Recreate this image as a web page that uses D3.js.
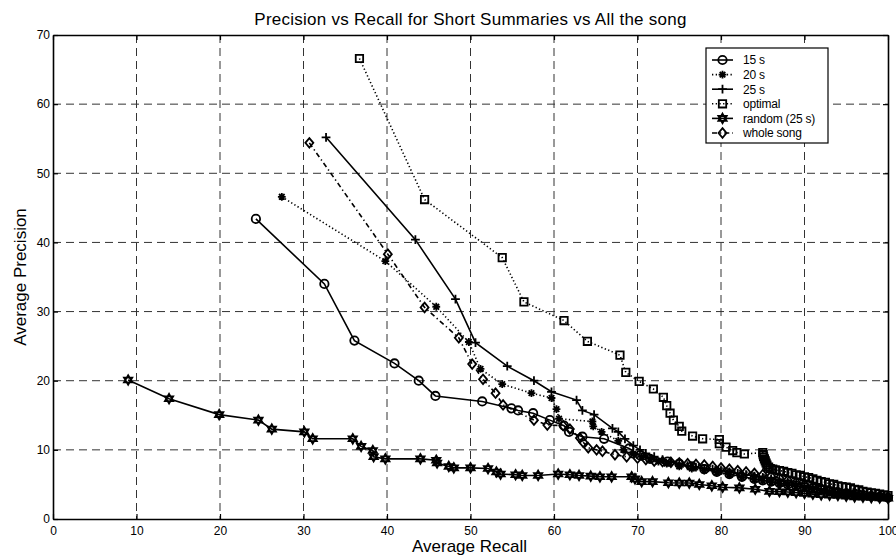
<!DOCTYPE html>
<html>
<head>
<meta charset="utf-8">
<script src="https://cdn.jsdelivr.net/npm/d3@7"></script>
<style>
  body { margin: 0; background: #fff; }
  svg text { font-family: 'Liberation Sans', Arial, sans-serif; fill: #000; }
</style>
</head>
<body>
<div id="chart"></div>
<script>
// [recall, precision] pairs
const sec15 = [[24.3,43.4],[32.5,34.0],[36.1,25.8],[40.9,22.5],[43.8,20.0],[45.8,17.8],[51.4,17.0],[54.9,16.0],[55.7,15.7],[57.5,15.3],[59.5,14.3],[61.2,13.5],[61.8,12.6],[63.4,11.9],[66.0,11.6],[69.0,10.2],[70.3,9.2],[71.5,8.7],[73.6,8.3],[75,8.0],[76.5,7.6],[78,7.2],[79.5,6.8],[81,6.5],[82.5,6.1],[84,5.8],[85,5.6],[86,5.4],[87,5.2],[88,5.0],[89,4.8],[90,4.6],[91,4.4],[92,4.2],[93,4.0],[94,3.85],[95,3.7],[96,3.6],[97,3.45],[98,3.3],[99,3.2],[100,3.1]]
const sec20 = [[27.4,46.6],[39.8,37.3],[45.9,30.7],[49.8,25.6],[51.2,21.7],[53.8,19.5],[57.3,18.2],[59.7,17.5],[60.3,15.9],[60.6,14.5],[64.6,14.1],[64.7,13.4],[65.7,12.6],[67.7,11.3],[68.3,10.0],[69.5,9.4],[70.5,9.0],[71.5,8.7],[72.5,8.3],[73.5,8.0],[75,7.6],[76.5,7.3],[78,7.0],[79.5,6.7],[81,6.4],[82.5,6.0],[84,5.7],[85,5.5],[86,5.3],[87,5.1],[88,4.9],[89,4.7],[90,4.5],[91,4.3],[92,4.1],[93,3.9],[94,3.75],[95,3.6],[96,3.5],[97,3.35],[98,3.25],[99,3.15],[100,3.1]]
const sec25 = [[32.7,55.2],[43.4,40.4],[48.2,31.8],[50.6,25.5],[54.4,22.1],[57.6,20.0],[59.7,18.4],[62.7,17.2],[63.4,15.7],[64.8,15.1],[67.0,13.1],[67.7,12.6],[68.5,11.6],[69.5,10.6],[70.3,10.0],[71,9.5],[72,9.0],[73,8.6],[74,8.3],[75,8.0],[76,7.7],[77,7.5],[78,7.3],[79,7.2],[80,7.0],[81,6.8],[82,6.6],[83,6.4],[84,6.2],[85,6.0],[86,5.8],[87,5.6],[88,5.3],[89,5.1],[90,4.8],[91,4.6],[92,4.3],[93,4.1],[94,3.9],[95,3.7],[96,3.6],[97,3.4],[98,3.3],[99,3.2],[100,3.1]]
const optimal = [[36.7,66.6],[44.5,46.2],[53.8,37.8],[56.4,31.4],[61.2,28.7],[64.0,25.7],[67.9,23.7],[68.6,21.2],[70.2,19.9],[71.9,18.8],[73.1,17.6],[73.5,16.4],[73.9,15.3],[74.3,14.3],[75.0,13.4],[75.3,12.7],[76.6,12.0],[77.8,11.6],[79.8,11.5],[79.8,10.9],[80.6,10.4],[81.4,9.9],[81.9,9.6],[82.8,9.4],[85,9.6],[85.05,9.3],[85.1,9.0],[85.2,8.7],[85.3,8.4],[85.4,8.1],[85.5,7.8],[85.7,7.5],[85.9,7.3],[86.2,7.2],[86.5,7.1],[87,7.0],[87.5,6.9],[88,6.7],[88.5,6.6],[89,6.4],[89.5,6.3],[90,6.1],[90.5,6.0],[91,5.8],[91.5,5.6],[92,5.4],[92.5,5.3],[93,5.1],[93.5,5.0],[94,4.8],[94.5,4.7],[95,4.6],[95.5,4.5],[96,4.3],[96.5,4.2],[97,4.0],[97.5,3.9],[98,3.8],[98.5,3.7],[99,3.6],[99.5,3.5],[100,3.4]]
const random25 = [[9.0,20.1],[13.9,17.4],[19.9,15.1],[24.6,14.3],[26.2,13.0],[30.1,12.6],[31.1,11.6],[35.9,11.6],[36.9,10.5],[38.3,9.9],[38.4,9.0],[39.8,8.7],[44.0,8.7],[45.9,8.5],[46.0,8.1],[47.4,7.6],[48.0,7.4],[50.0,7.4],[52.1,7.3],[53.1,6.8],[53.6,6.5],[55.4,6.4],[56.2,6.3],[58.1,6.3],[60.5,6.5],[61.9,6.4],[63.0,6.3],[64.4,6.2],[65.5,6.1],[66.9,6.1],[69.3,6.1],[69.7,5.8],[70.5,5.4],[71.8,5.4],[73.7,5.25],[75,5.2],[76.2,5.2],[77.4,5.0],[78.9,4.8],[80.2,4.6],[82.2,4.5],[84.1,4.3],[85.8,4.0],[87,3.95],[88,3.9],[89,3.8],[90,3.7],[91,3.6],[92,3.5],[93,3.45],[94,3.4],[95,3.3],[96,3.2],[97,3.15],[98,3.1],[99,3.05],[100,3.0]]
const wholeSong = [[30.7,54.4],[40.1,38.3],[44.5,30.6],[48.6,26.2],[50.2,22.4],[51.5,20.2],[53.0,18.2],[53.9,16.5],[57.6,14.3],[59.2,13.6],[61.1,13.5],[61.9,13.0],[63.1,11.7],[63.5,11.1],[64.1,10.3],[65.1,10.0],[65.8,9.8],[67.3,9.3],[68.7,9.0],[70,8.8],[71,8.6],[72,8.4],[73,8.3],[74,8.2],[75,8.1],[76,8.0],[77,7.9],[78,7.8],[79,7.6],[80,7.4],[81,7.2],[82,7.0],[83,6.8],[84,6.6],[85,6.4],[86,6.2],[87,5.9],[88,5.6],[89,5.3],[90,5.0],[91,4.7],[92,4.4],[93,4.1],[94,3.9],[95,3.7],[96,3.5],[97,3.4],[98,3.3],[99,3.2],[100,3.1]]

const seriesNames = ['15 s', '20 s', '25 s', 'optimal', 'random (25 s)', 'whole song']
const seriesData = [sec15, sec20, sec25, optimal, random25, wholeSong]
const markers = ['circle', 'asterisk', 'plus', 'square', 'hexagram', 'diamond']
const dashes = [null, '1.3,2.4', null, '1.3,2.4', null, '5,3,1.3,3']

const xTicks = [0, 10, 20, 30, 40, 50, 60, 70, 80, 90, 100]
const yTicks = [0, 10, 20, 30, 40, 50, 60, 70]

const margin = { top: 35, left: 53, right: 8, bottom: 37 }
const width = 896 - margin.left - margin.right
const height = 556 - margin.top - margin.bottom

const svg = d3.select('#chart')
  .append('svg')
  .attr('width', 896)
  .attr('height', 556)

const g = svg.append('g')
  .attr('transform', 'translate(' + margin.left + ',' + margin.top + ')')

const xScale = d3.scaleLinear().domain([0, 100]).range([0, width])
const yScale = d3.scaleLinear().domain([0, 70]).range([height, 0])

// dashed grid
g.selectAll('.vgrid')
  .data(xTicks.slice(1, -1))
  .enter()
  .append('line')
  .attr('x1', d => xScale(d)).attr('x2', d => xScale(d))
  .attr('y1', 0).attr('y2', height)
  .attr('stroke', '#333').attr('stroke-dasharray', '8,5')

g.selectAll('.hgrid')
  .data(yTicks.slice(1, -1))
  .enter()
  .append('line')
  .attr('y1', d => yScale(d)).attr('y2', d => yScale(d))
  .attr('x1', 0).attr('x2', width)
  .attr('stroke', '#333').attr('stroke-dasharray', '8,5')

// axes, ticks pointing inward, mirrored on top and right
const axisB = d3.axisBottom(xScale).tickValues(xTicks).tickSizeInner(-5).tickSizeOuter(0).tickPadding(7)
const axisL = d3.axisLeft(yScale).tickValues(yTicks).tickSizeInner(-5).tickSizeOuter(0).tickPadding(3)
const axisT = d3.axisTop(xScale).tickValues(xTicks).tickSizeInner(-5).tickSizeOuter(0).tickFormat('')
const axisR = d3.axisRight(yScale).tickValues(yTicks).tickSizeInner(-5).tickSizeOuter(0).tickFormat('')

g.append('g').attr('transform', 'translate(0,' + height + ')').call(axisB)
g.append('g').call(axisL)
g.append('g').call(axisT)
g.append('g').attr('transform', 'translate(' + width + ',0)').call(axisR)

g.selectAll('.domain').attr('stroke', '#000').attr('stroke-width', 1.6)
g.selectAll('.tick line').attr('stroke', '#000').attr('stroke-width', 1.2)
g.selectAll('.tick text').attr('font-size', 12).attr('font-family', "'Liberation Sans', Arial, sans-serif")

// marker shapes (MATLAB style)
function markerPath(type) {
  const p = d3.path()
  if (type === 'circle') {
    p.moveTo(4.2, 0); p.arc(0, 0, 4.2, 0, 2 * Math.PI)
  } else if (type === 'square') {
    p.rect(-3.7, -3.7, 7.4, 7.4)
  } else if (type === 'diamond') {
    p.moveTo(0, -4.8); p.lineTo(4, 0); p.lineTo(0, 4.8); p.lineTo(-4, 0); p.closePath()
  } else if (type === 'plus') {
    p.moveTo(-4.4, 0); p.lineTo(4.4, 0); p.moveTo(0, -4.4); p.lineTo(0, 4.4)
  } else if (type === 'asterisk') {
    p.moveTo(-3.9, 0); p.lineTo(3.9, 0); p.moveTo(0, -3.9); p.lineTo(0, 3.9)
    p.moveTo(-2.8, -2.8); p.lineTo(2.8, 2.8); p.moveTo(-2.8, 2.8); p.lineTo(2.8, -2.8)
  } else if (type === 'hexagram') {
    const r = 4.8
    for (let k = 0; k < 2; k++) {
      for (let i = 0; i < 3; i++) {
        const a = (k * 60 + i * 120 - 90) * Math.PI / 180
        const px = r * Math.cos(a), py = r * Math.sin(a)
        if (i === 0) p.moveTo(px, py); else p.lineTo(px, py)
      }
      p.closePath()
    }
  }
  return p.toString()
}

const line = d3.line()
  .x(d => xScale(d[0]))
  .y(d => yScale(d[1]))

seriesData.forEach(function(data, i) {
  g.append('path')
    .datum(data)
    .attr('d', line)
    .attr('fill', 'none')
    .attr('stroke', '#000')
    .attr('stroke-width', 1.6)
    .attr('stroke-dasharray', dashes[i])

  g.selectAll('.m' + i)
    .data(data)
    .enter()
    .append('path')
    .attr('class', 'm' + i)
    .attr('d', markerPath(markers[i]))
    .attr('transform', d => `translate(${xScale(d[0])},${yScale(d[1])})`)
    .attr('fill', 'none')
    .attr('stroke', '#000')
    .attr('stroke-width', 1.8)
})

// legend
const legend = svg.append('g').attr('transform', 'translate(706,48)')
legend.append('rect')
  .attr('width', 122).attr('height', 95)
  .attr('fill', '#fff').attr('stroke', '#000').attr('stroke-width', 1.2)

seriesNames.forEach(function(name, i) {
  const y = 12 + i * 14.6
  legend.append('line')
    .attr('x1', 6).attr('x2', 27).attr('y1', y).attr('y2', y)
    .attr('stroke', '#000').attr('stroke-width', 1.6)
    .attr('stroke-dasharray', dashes[i])
  legend.append('path')
    .attr('d', markerPath(markers[i]))
    .attr('transform', `translate(16.5,${y})`)
    .attr('fill', 'none').attr('stroke', '#000').attr('stroke-width', 1.8)
  legend.append('text')
    .attr('x', 37).attr('y', y + 4.3)
    .attr('font-size', 12)
    .attr('letter-spacing', -0.2)
    .text(name)
})

// titles
svg.append('text')
  .attr('x', margin.left + width / 2).attr('y', 25)
  .attr('text-anchor', 'middle').attr('font-size', 17)
  .attr('letter-spacing', 0.25)
  .text('Precision vs Recall for Short Summaries vs All the song')

svg.append('text')
  .attr('x', margin.left + width / 2 - 1).attr('y', 552)
  .attr('text-anchor', 'middle').attr('font-size', 17)
  .text('Average Recall')

svg.append('text')
  .attr('transform', `translate(26,${margin.top + height / 2}) rotate(-90)`)
  .attr('text-anchor', 'middle').attr('font-size', 17)
  .text('Average Precision')
</script>
</body>
</html>
